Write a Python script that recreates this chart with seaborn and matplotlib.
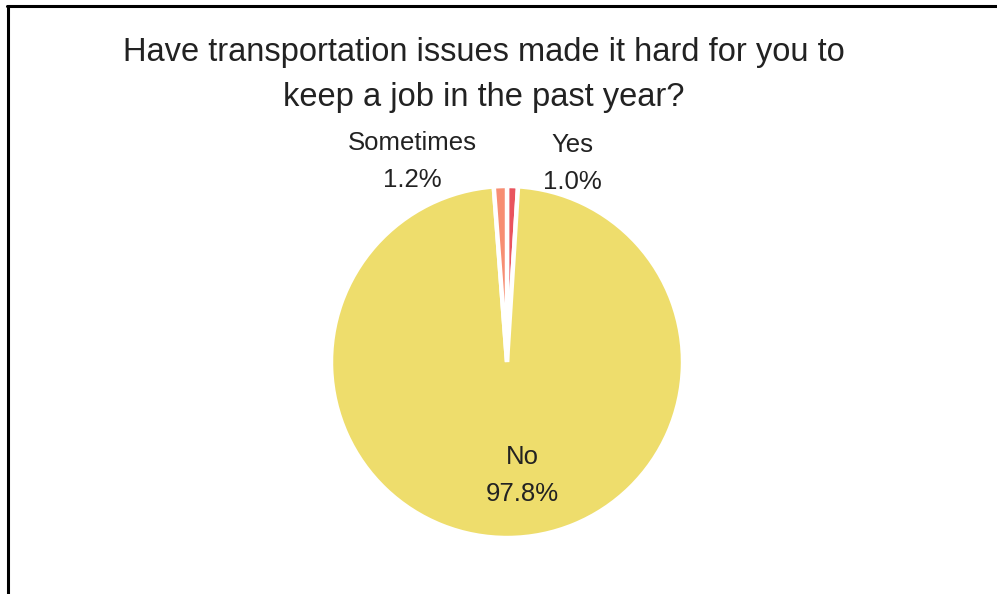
import matplotlib
matplotlib.use("Agg")
import matplotlib.pyplot as plt
from matplotlib.lines import Line2D
import seaborn as sns

# Survey answers, clockwise from 12 o'clock
categories = ["Yes", "No", "Sometimes"]
shares = [1.0, 97.8, 1.2]
colors = ["#E9545E", "#EEDD6C", "#F78E73"]

title = "Have transportation issues made it hard for you to\nkeep a job in the past year?"

sns.set_theme(style="white")
plt.rcParams["font.family"] = ["Liberation Sans", "DejaVu Sans"]

fig = plt.figure(figsize=(9.97, 5.94), dpi=100)
W, H = 997, 594

# Frame lines along the top and left edges
fig.add_artist(Line2D([7 / W, 1.0], [1 - 6 / H, 1 - 6 / H], color="black", lw=2.2,
                      transform=fig.transFigure))
fig.add_artist(Line2D([8 / W, 8 / W], [0.0, 1 - 6 / H], color="black", lw=2.2,
                      transform=fig.transFigure))

fig.text(484 / W, 1 - 75 / H, title, ha="center", va="center", fontsize=23.5,
         color="#222222", linespacing=1.62)

cx, cy, r = 507, 362, 176
ax = fig.add_axes([(cx - r) / W, (H - cy - r) / H, 2 * r / W, 2 * r / H])
ax.pie(shares, colors=colors, startangle=90, counterclock=False,
       wedgeprops=dict(edgecolor="white", linewidth=3.2))
ax.set_xlim(-1, 1)
ax.set_ylim(-1, 1)
ax.set_aspect("equal")
ax.axis("off")

# Slice labels (data units of the pie axes)
label_pos = {"Yes": (0.37, 1.13), "Sometimes": (-0.54, 1.14), "No": (0.085, -0.645)}
for cat, val in zip(categories, shares):
    x, y = label_pos[cat]
    ax.text(x, y, f"{cat}\n{val:.1f}%", ha="center", va="center", fontsize=18.5,
            color="#222222", linespacing=1.68, clip_on=False)

fig.savefig("out.png", dpi=100, facecolor="white")
